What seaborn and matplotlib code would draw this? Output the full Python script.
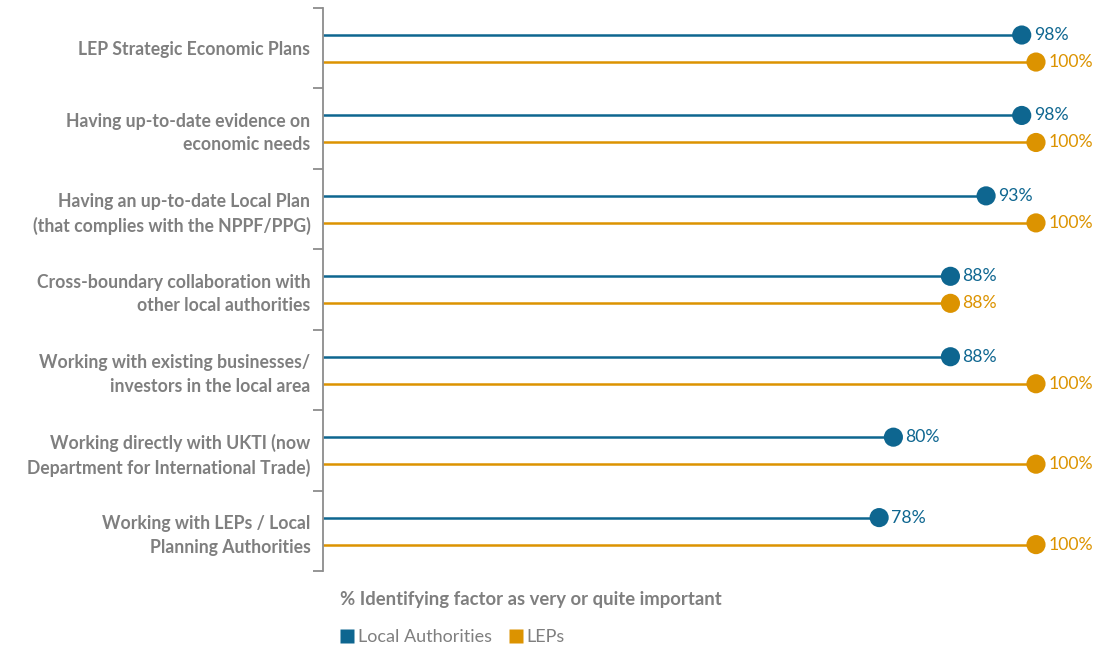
import numpy as np
import pandas as pd
import seaborn as sns
import matplotlib.pyplot as plt
from matplotlib.lines import Line2D

categories = [
    "LEP Strategic Economic Plans",
    "Having up-to-date evidence on\neconomic needs",
    "Having an up-to-date Local Plan\n(that complies with the NPPF/PPG)",
    "Cross-boundary collaboration with\nother local authorities",
    "Working with existing businesses/\ninvestors in the local area",
    "Working directly with UKTI (now\nDepartment for International Trade)",
    "Working with LEPs / Local\nPlanning Authorities",
]
local_authorities = [98, 98, 93, 88, 88, 80, 78]
leps = [100, 100, 100, 88, 100, 100, 100]
series_names = ["Local Authorities", "LEPs"]
colors = {"Local Authorities": "#0e6690", "LEPs": "#dc9300"}

sns.set_theme(style="white")
plt.rcParams["font.family"] = ["Lato", "DejaVu Sans"]

rows = []
offsets = {"Local Authorities": 0.336, "LEPs": 0.672}
for i, c in enumerate(categories):
    for s, vals in zip(series_names, [local_authorities, leps]):
        rows.append({"category": c, "series": s, "value": vals[i], "y": i + offsets[s]})
df = pd.DataFrame(rows)

fig = plt.figure(figsize=(10.99, 6.47), dpi=100)
ax = fig.add_axes([323 / 1099, 1 - 571 / 647, 713 / 1099, (571 - 8) / 647])

for s in series_names:
    d = df[df.series == s]
    ax.hlines(d.y, 0, d.value, colors=colors[s], lw=1.8, zorder=2)

sns.scatterplot(data=df, x="value", y="y", hue="series", palette=colors,
                s=190, edgecolor="none", ax=ax, legend=False, zorder=3, clip_on=False)

for _, r in df.iterrows():
    ax.text(r.value + 1.7, r.y, f"{r.value}%", color=colors[r.series],
            va="center", ha="left", fontsize=12.7, clip_on=False)

ax.set_xlim(0, 100)
ax.set_ylim(len(categories), 0)
ax.set_yticks(np.arange(len(categories) + 1))
ax.set_yticklabels([])
ax.set_yticks(np.arange(len(categories)) + 0.5, minor=True)
ax.set_yticklabels(categories, minor=True, fontsize=12.7, fontweight="bold",
                   color="#7f7f7f", linespacing=1.45)
ax.tick_params(axis="y", which="major", length=7, width=1.3, color="#8c8c8c", left=True, direction="out")
ax.tick_params(axis="y", which="minor", length=0, pad=9)
ax.set_xticks([])
ax.set_xlabel("")
ax.set_ylabel("")
for sp in ["top", "right", "bottom"]:
    ax.spines[sp].set_visible(False)
ax.spines["left"].set_color("#8c8c8c")
ax.spines["left"].set_linewidth(1.3)

fig.text(340 / 1099, 1 - 600 / 647, "% Identifying factor as very or quite important",
         fontsize=13.3, fontweight="bold", color="#7f7f7f", va="center", ha="left")

handles = [Line2D([], [], marker="s", linestyle="none", markersize=9.5,
                  markerfacecolor=colors[s], markeredgecolor="none") for s in series_names]
leg = fig.legend(handles, series_names, loc="center left",
                 bbox_to_anchor=(322 / 1099, 1 - 637 / 647), ncol=2, frameon=False,
                 handletextpad=0.1, columnspacing=0.8, fontsize=13, handlelength=1.0)
for t in leg.get_texts():
    t.set_color("#7f7f7f")

fig.savefig("out.png", dpi=100)
